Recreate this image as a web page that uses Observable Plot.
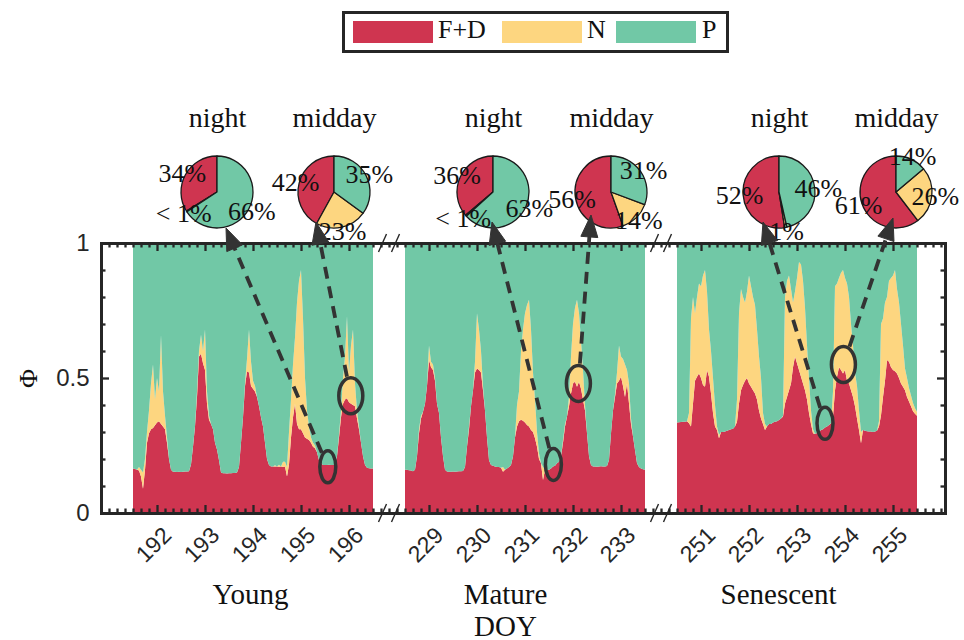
<!DOCTYPE html>
<html>
<head>
<meta charset="utf-8">
<script src="https://cdn.jsdelivr.net/npm/d3@7"></script>
<script src="https://cdn.jsdelivr.net/npm/@observablehq/plot@0.6"></script>
<style>
  body { margin: 0; background: #fff; }
  #legend { position: relative; width: 964px; height: 55px; font-family: "Liberation Serif", "DejaVu Serif", serif; }
  #legend .box { position: absolute; left: 342px; top: 11px; width: 387px; height: 42px; border: 3px solid #262626; box-sizing: border-box; background: #fff; }
  #legend .sw { position: absolute; top: 7px; width: 80px; height: 22px; }
  #legend .lab { position: absolute; top: 2px; font-size: 26px; line-height: 28px; color: #111; }
</style>
</head>
<body>
<div id="legend"></div>
<div id="chart"></div>
<script>
// ---- Components of Φ (stacked bottom to top) ----
const components = ["F+D", "N", "P"];
const componentColors = ["#CF3550", "#FDD680", "#71C8A6"];

// ---- Leaf stages and the five days shown for each ----
const stages = ["Young", "Mature", "Senescent"];
const youngDays = [192, 193, 194, 195, 196];
const matureDays = [229, 230, 231, 232, 233];
const senescentDays = [251, 252, 253, 254, 255];

// ---- Hourly fractions (hour 0 … 120 of each five-day window) ----
const youngFD = [
  .165, .163, .16, .157, .135, .09, .16, .26, .295, .31,
  .315, .325, .335, .34, .33, .32, .31, .26, .2, .16,
  .153, .153, .152, .153, .152, .153, .154, .154, .155, .18,
  .245, .32, .43, .58, .59, .555, .53, .405, .345, .33,
  .31, .26, .235, .195, .15, .147, .147, .146, .147, .147,
  .148, .148, .15, .17, .26, .355, .47, .525, .52, .47,
  .46, .45, .43, .395, .355, .32, .26, .2, .178, .172,
  .172, .172, .172, .171, .172, .17, .172, .135, .18, .28,
  .355, .405, .33, .31, .31, .295, .28, .275, .27, .26,
  .245, .24, .225, .195, .185, .178, .178, .178, .179, .178,
  .178, .18, .21, .28, .355, .405, .42, .425, .41, .405,
  .4, .395, .35, .31, .26, .21, .178, .168, .166, .165,
  .165
];
const youngN = [
  0, 0, 0, .013, .025, .06, .04, .04, .085, .17,
  .235, .095, .165, .11, .33, .13, .05, .02, 0, 0,
  0, 0, 0, 0, 0, 0, 0, 0, 0, 0,
  0, 0, .02, .02, .07, .045, .15, .045, .015, 0,
  0, 0, 0, 0, 0, 0, 0, 0, 0, 0,
  0, 0, 0, 0, 0, 0, .01, .045, .16, .09,
  .03, .02, 0, 0, 0, 0, 0, 0, 0, 0,
  0, .005, 0, .008, 0, .02, .018, .035, .12, .14,
  .195, .245, .45, .55, .59, .425, .22, .105, .05, .02,
  .015, .01, 0, 0, 0, 0, 0, 0, 0, 0,
  0, 0, 0, .01, .025, .095, .16, .305, .11, .215,
  .28, .085, .03, .01, 0, 0, 0, 0, 0, 0,
  0
];
const matureFD = [
  .16, .16, .158, .157, .155, .16, .21, .295, .35, .375,
  .405, .47, .567, .54, .53, .49, .405, .37, .28, .21,
  .16, .154, .153, .153, .154, .153, .154, .155, .155, .156,
  .17, .245, .31, .395, .455, .52, .535, .53, .52, .455,
  .38, .28, .195, .178, .175, .172, .17, .17, .168, .153,
  .16, .165, .17, .178, .21, .28, .32, .34, .345, .342,
  .335, .326, .32, .307, .3, .277, .245, .2, .184, .122,
  .16, .158, .16, .165, .172, .175, .184, .19, .21, .26,
  .32, .357, .395, .443, .48, .486, .468, .486, .46, .42,
  .38, .295, .21, .178, .172, .172, .171, .172, .173, .172,
  .172, .174, .196, .295, .38, .43, .48, .49, .505, .47,
  .43, .48, .406, .33, .283, .233, .184, .17, .165, .162,
  .16
];
const matureN = [
  0, 0, 0, 0, 0, 0, 0, .015, .01, 0,
  0, 0, .053, .02, .02, .01, 0, 0, 0, 0,
  0, 0, 0, 0, 0, 0, 0, 0, 0, 0,
  0, 0, .01, 0, 0, .04, .205, .15, .08, .015,
  0, 0, 0, 0, 0, 0, 0, 0, 0, .017,
  0, 0, 0, 0, 0, 0, .08, .11, .255, .338,
  .405, .444, .47, .373, .22, .143, .055, .02, 0, .048,
  0, 0, 0, 0, 0, 0, 0, 0, 0, .01,
  .01, 0, .035, .137, .22, .274, .322, .254, .18, .11,
  .02, 0, 0, 0, 0, 0, 0, 0, 0, 0,
  0, 0, 0, 0, 0, .01, .04, .13, .075, .1,
  .12, .05, .074, .02, 0, 0, 0, 0, 0, 0,
  0
];
const senescentFD = [
  .335, .336, .337, .338, .338, .34, .332, .32, .406, .49,
  .505, .517, .5, .474, .468, .53, .505, .443, .37, .32,
  .307, .277, .3, .3, .302, .305, .307, .31, .312, .32,
  .338, .406, .455, .474, .49, .5, .48, .468, .455, .443,
  .42, .38, .35, .33, .307, .32, .33, .33, .335, .338,
  .34, .344, .35, .357, .406, .43, .455, .48, .54, .58,
  .555, .53, .505, .48, .455, .42, .37, .33, .295, .293,
  .296, .3, .307, .31, .317, .32, .326, .332, .357, .455,
  .505, .54, .53, .517, .53, .49, .48, .455, .43, .395,
  .35, .307, .258, .307, .305, .303, .302, .302, .3, .302,
  .305, .32, .362, .43, .49, .567, .56, .54, .53, .525,
  .517, .5, .48, .468, .455, .43, .413, .395, .377, .368,
  .36
];
const senescentN = [
  0, 0, 0, 0, 0, 0, .038, .4, .394, .25,
  .295, .333, .34, .406, .432, .29, .175, .157, .13, .08,
  .013, .013, 0, 0, 0, 0, 0, 0, 0, 0,
  .082, .334, .375, .326, .29, .32, .4, .372, .345, .327,
  .26, .2, .15, .04, .023, 0, 0, 0, 0, 0,
  0, 0, 0, .003, .394, .43, .425, .35, .24, .24,
  .315, .4, .415, .38, .305, .2, .13, .05, .015, 0,
  0, 0, 0, 0, 0, 0, 0, 0, .093, .385,
  .345, .33, .36, .383, .34, .36, .32, .245, .19, .125,
  .12, .073, .042, 0, 0, 0, 0, 0, 0, 0,
  0, .02, .338, .29, .29, .233, .3, .33, .35, .375,
  .313, .28, .22, .152, .08, .07, .05, .04, .03, .02,
  .015
];

// ---- Pie summaries (percent of Φ) ----
const pieStage = ["Young", "Young", "Mature", "Mature", "Senescent", "Senescent"];
const pieWhen = ["night", "midday", "night", "midday", "night", "midday"];
const pieFD = [34, 42, 36, 56, 52, 61];
const pieN = [0.4, 23, 0.6, 14, 1, 26];
const pieP = [66, 35, 63, 31, 46, 14];

// ---- Circled samples: hour within the stage window and Φ there ----
const circledHour = [97.4, 108.9, 74.2, 86.7, 74, 83.2];
const circledPhi = [0.171, 0.434, 0.18, 0.48, 0.332, 0.55];

// ================= layout =================
const W = 964, H = 585;
const mTop = 188, mBottom = 127, mLeft = 101, mRight = 19;
const windowHours = 120;
const stageOffset = [0, 136, 272];          // hours along the broken axis
const xDomain = [-16, 406];
const hourPx = (W - mLeft - mRight) / (xDomain[1] - xDomain[0]);
const phiPx = 1 / (H - mTop - mBottom);
const ink = "#262626";
const serif = "'Liberation Serif', 'DejaVu Serif', serif";
const sans = "'Liberation Sans', Arial, sans-serif";

// pie placement: hour along the window, and arrow tip offset (px) from pie centre
const pieHour = [42, 100.5, 44, 103, 51, 109.5];
const pieRadius = 36, pieRise = 51;
const tipOffset = [[9, 36], [-18, 30], [-1, 30], [-20, 23], [-16, 30], [-3, 26]];
const ringSize = { night: [8, 16], midday: [12, 18] };
const stageLabelHour = [58.5, 50, 50.5];

// ---- legend ----
const legend = d3.select("#legend").append("div").attr("class", "box");
const swX = [8, 157, 271], labX = [93, 242, 357];
components.forEach((c, i) => {
  legend.append("div").attr("class", "sw").style("left", swX[i] + "px").style("background", componentColors[i]);
  legend.append("div").attr("class", "lab").style("left", labX[i] + "px").text(c);
});

// ---- long table for the stacked areas ----
const series = [
  { fd: youngFD, n: youngN },
  { fd: matureFD, n: matureN },
  { fd: senescentFD, n: senescentN }
];
const rows = [];
series.forEach((s, i) => {
  s.fd.forEach((fd, h) => {
    const t = stageOffset[i] + h;
    const n = s.n[h];
    rows.push({ t, comp: "F+D", v: fd, key: stages[i] + "F+D" });
    rows.push({ t, comp: "N", v: n, key: stages[i] + "N" });
    rows.push({ t, comp: "P", v: 1 - fd - n, key: stages[i] + "P" });
  });
});

const stageDays = [youngDays, matureDays, senescentDays];
const dayTicks = stageDays.flatMap((days, i) =>
  days.map((d, k) => ({ t: stageOffset[i] + 12 + 24 * k, label: String(d) })));
const majorT = dayTicks.map(d => d.t);
const minorT = d3.range(xDomain[0] + 4, xDomain[1], 4).filter(t => !majorT.includes(t));
const minorY = d3.range(1, 10).map(k => k / 10).filter(v => v !== 0.5);
const majorY = [0.5];

const pies = pieFD.map((fd, i) => ({
  stage: pieStage[i], when: pieWhen[i],
  values: [fd, pieN[i], pieP[i]],
  t: stageOffset[stages.indexOf(pieStage[i])] + pieHour[i],
  tip: tipOffset[i],
  ct: stageOffset[stages.indexOf(pieStage[i])] + circledHour[i],
  cphi: circledPhi[i]
}));
const pct = v => v < 1 ? "< 1%" : `${v}%`;

function pickX(scales) {
  return typeof scales.x === "function" ? scales.x : d3.scaleLinear(xDomain, [mLeft, W - mRight]);
}
function pickY(scales) {
  return typeof scales.y === "function" ? scales.y : d3.scaleLinear([0, 1], [H - mBottom, mTop]);
}

// pies with their percentage labels
function pieMark(index, scales) {
  const sx = pickX(scales);
  const g = d3.create("svg:g");
  const cy = mTop - pieRise;
  const labels = [];
  for (const p of pies) {
    const cx = sx(p.t);
    const total = d3.sum(p.values);
    let a0 = 90;
    p.values.forEach((v, k) => {
      const a1 = a0 + 360 * v / total;
      const r0 = a0 * Math.PI / 180, r1 = a1 * Math.PI / 180;
      const x0 = cx + pieRadius * Math.cos(r0), y0 = cy - pieRadius * Math.sin(r0);
      const x1 = cx + pieRadius * Math.cos(r1), y1 = cy - pieRadius * Math.sin(r1);
      const large = (a1 - a0) > 180 ? 1 : 0;
      g.append("path")
        .attr("d", `M${cx},${cy}L${x0},${y0}A${pieRadius},${pieRadius} 0 ${large} 0 ${x1},${y1}Z`)
        .attr("fill", componentColors[k])
        .attr("stroke", "#1a1a1a").attr("stroke-width", 1.3).attr("stroke-linejoin", "round");
      const am = (a0 + a1) / 2 * Math.PI / 180;
      labels.push({ x: cx + 1.1 * pieRadius * Math.cos(am), y: cy - 1.1 * pieRadius * Math.sin(am), text: pct(v) });
      a0 = a1;
    });
  }
  for (const l of labels) {
    g.append("text").attr("x", l.x).attr("y", l.y)
      .attr("text-anchor", "middle").attr("dy", "0.35em")
      .attr("font-family", serif).attr("font-size", 26).attr("fill", "#111")
      .text(l.text);
  }
  return g.node();
}

// circled samples, dashed arrows up to the pies, and axis break marks
function annotationMark(index, scales) {
  const sx = pickX(scales), sy = pickY(scales);
  const g = d3.create("svg:g");
  const cy = mTop - pieRise;
  const grey = "#333";
  for (const p of pies) {
    const [rx, ry] = ringSize[p.when];
    const ex = sx(p.ct), ey = sy(p.cphi);
    const tx = sx(p.t) + p.tip[0], ty = cy + p.tip[1];
    const dx = tx - ex, dy = ty - ey, len = Math.hypot(dx, dy);
    const ux = dx / len, uy = dy / len;
    // where the arrow leaves the ellipse
    const s = 1 / Math.sqrt((ux * ux) / (rx * rx) + (uy * uy) / (ry * ry));
    const sxp = ex + ux * (s + 2), syp = ey + uy * (s + 2);
    const head = 22, half = 8.5;
    const bx = tx - ux * head, by = ty - uy * head;
    g.append("ellipse").attr("cx", ex).attr("cy", ey).attr("rx", rx).attr("ry", ry)
      .attr("fill", "none").attr("stroke", grey).attr("stroke-width", 3.5);
    g.append("line").attr("x1", sxp).attr("y1", syp).attr("x2", bx + ux * 2).attr("y2", by + uy * 2)
      .attr("stroke", grey).attr("stroke-width", 3.8).attr("stroke-dasharray", "12,8");
    g.append("path")
      .attr("d", `M${tx},${ty}L${bx - uy * half},${by + ux * half}L${bx + uy * half},${by - ux * half}Z`)
      .attr("fill", grey).attr("stroke", grey).attr("stroke-width", 1).attr("stroke-linejoin", "round");
  }
  // "//" marks where the time axis is broken
  const breaks = [stageOffset[0] + windowHours + 8, stageOffset[1] + windowHours + 8];
  for (const b of breaks) {
    const bx = sx(b);
    for (const yy of [mTop, H - mBottom]) {
      for (const off of [-6.5, 6.5]) {
        g.append("line")
          .attr("x1", bx + off - 4).attr("y1", yy + 9)
          .attr("x2", bx + off + 4).attr("y2", yy - 9)
          .attr("stroke", ink).attr("stroke-width", 1.4);
      }
    }
  }
  return g.node();
}

const chart = Plot.plot({
  width: W, height: H,
  marginTop: mTop, marginBottom: mBottom, marginLeft: mLeft, marginRight: mRight,
  x: { domain: xDomain, axis: null },
  y: { domain: [0, 1], axis: null },
  color: { domain: components, range: componentColors },
  style: { fontFamily: sans, background: "#fff", overflow: "visible" },
  marks: [
    Plot.areaY(rows, { x: "t", y: "v", z: "key", fill: "comp" }),
    Plot.frame({ stroke: ink, strokeWidth: 3 }),
    // inward ticks on all four sides
    Plot.ruleX(majorT, { x: d => d, y1: 0, y2: 8 * phiPx, stroke: ink, strokeWidth: 2.3 }),
    Plot.ruleX(majorT, { x: d => d, y1: 1, y2: 1 - 8 * phiPx, stroke: ink, strokeWidth: 2.3 }),
    Plot.ruleX(minorT, { x: d => d, y1: 0, y2: 4.5 * phiPx, stroke: ink, strokeWidth: 2.3 }),
    Plot.ruleX(minorT, { x: d => d, y1: 1, y2: 1 - 4.5 * phiPx, stroke: ink, strokeWidth: 2.3 }),
    Plot.ruleY(majorY, { y: d => d, x1: xDomain[0], x2: xDomain[0] + 8 / hourPx, stroke: ink, strokeWidth: 2.3 }),
    Plot.ruleY(majorY, { y: d => d, x1: xDomain[1], x2: xDomain[1] - 8 / hourPx, stroke: ink, strokeWidth: 2.3 }),
    Plot.ruleY(minorY, { y: d => d, x1: xDomain[0], x2: xDomain[0] + 4.5 / hourPx, stroke: ink, strokeWidth: 2.3 }),
    Plot.ruleY(minorY, { y: d => d, x1: xDomain[1], x2: xDomain[1] - 4.5 / hourPx, stroke: ink, strokeWidth: 2.3 }),
    // y tick labels and title
    Plot.text([0, 0.5, 1], { x: xDomain[0], y: d => d, text: d => String(d), textAnchor: "end", dx: -12, fontSize: 24, fill: ink, fontFamily: sans }),
    Plot.text(["Φ"], { x: xDomain[0], y: 0.5, text: d => d, dx: -73, rotate: -90, fontSize: 26, fill: "#111", fontFamily: serif }),
    // day tick labels
    Plot.text(dayTicks, { x: "t", y: 0, text: "label", rotate: -45, textAnchor: "end", dx: 10, dy: 18, fontSize: 23, fill: ink, fontFamily: sans }),
    // stage labels and axis title
    Plot.text(stages, { x: (d, i) => stageOffset[i] + stageLabelHour[i], y: 0, text: d => d, dy: 81, fontSize: 29, fill: "#111", fontFamily: serif }),
    Plot.text(["DOY"], { x: stageOffset[1] + stageLabelHour[1], y: 0, text: d => d, dy: 113, fontSize: 29, fill: "#111", fontFamily: serif }),
    // pie titles
    Plot.text(pies, { x: "t", frameAnchor: "top", lineAnchor: "middle", dy: -125, text: "when", fontSize: 28, fill: "#111", fontFamily: serif }),
    pieMark,
    annotationMark
  ]
});
document.getElementById("chart").appendChild(chart);
</script>
</body>
</html>
